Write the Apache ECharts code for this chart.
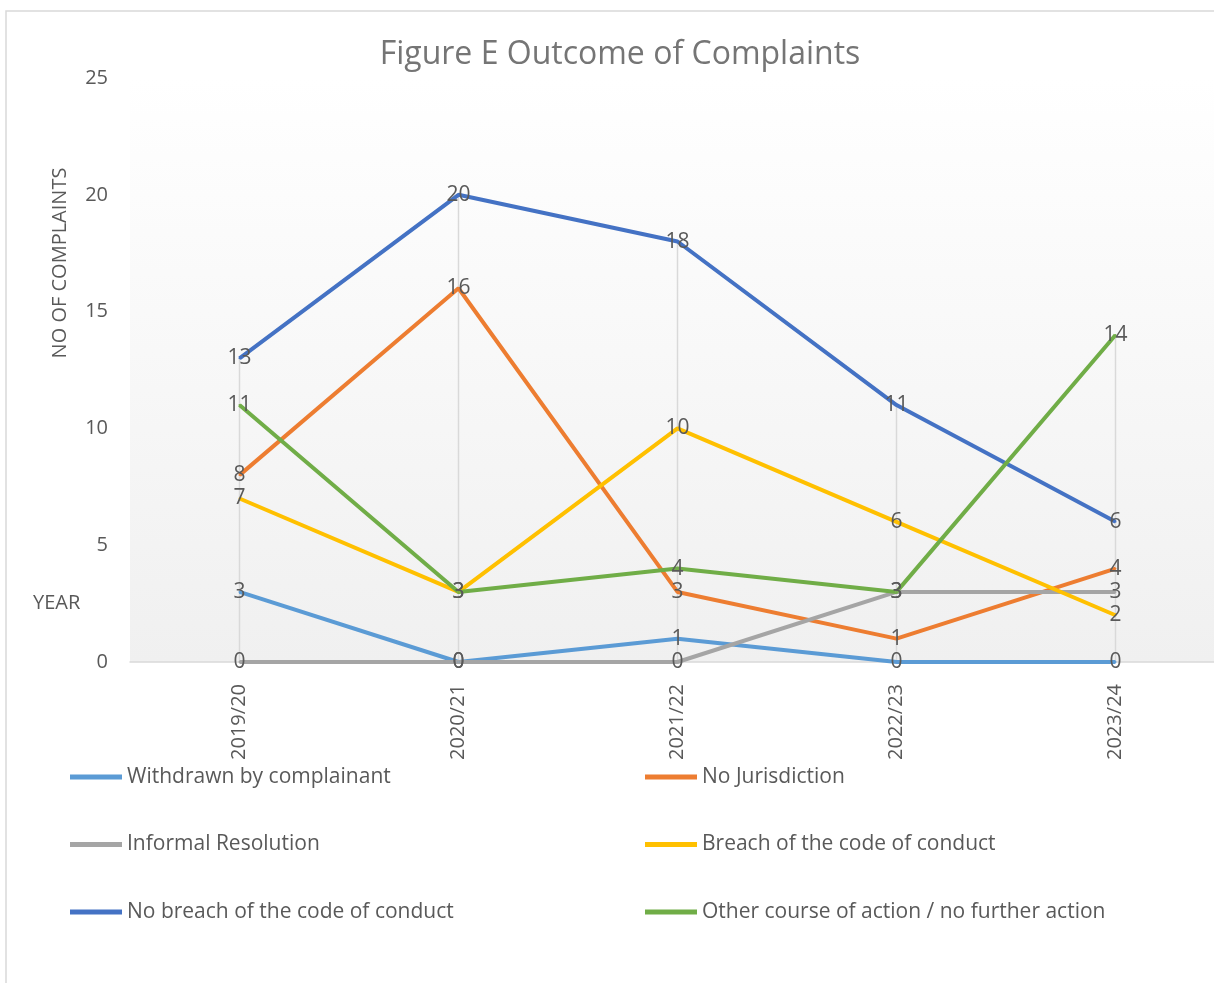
<html>
<head>
    <meta http-equiv="Content-Type" content="text/html; charset=utf-8">
    <title>Figure E Outcome of Complaints</title>
    <style>body{margin:0;background:#fff;}</style>
</head>
<body>
<div id="main" style="width:1214px;height:983px;"></div>
<script type="text/javascript" src="https://cdn.jsdelivr.net/npm/echarts@6/dist/echarts.min.js"></script>
<script type="text/javascript">
var years = ["2019/20", "2020/21", "2021/22", "2022/23", "2023/24"];
var withdrawn = [3, 0, 1, 0, 0];
var noJurisdiction = [8, 16, 3, 1, 4];
var informal = [0, 0, 0, 3, 3];
var breach = [7, 3, 10, 6, 2];
var noBreach = [13, 20, 18, 11, 6];
var otherAction = [11, 3, 4, 3, 14];

var names = ["Withdrawn by complainant", "No Jurisdiction", "Informal Resolution",
             "Breach of the code of conduct", "No breach of the code of conduct",
             "Other course of action / no further action"];
var colors = ["#5B9BD5", "#ED7D31", "#A5A5A5", "#FFC000", "#4472C4", "#70AD47"];
var allData = [withdrawn, noJurisdiction, informal, breach, noBreach, otherAction];

// drop lines run from the highest point of each year down to the axis
var dropTop = years.map(function(y, i) {
    return Math.max.apply(null, allData.map(function(d) { return d[i]; }));
});

var font = "'Open Sans', sans-serif";
var textGrey = "#595959";

var myChart = echarts.init(document.getElementById("main"));

var series = [{
    type: 'bar',
    data: dropTop,
    barWidth: 1.5,
    itemStyle: {color: '#D9D9D9'},
    silent: true,
    z: 1
}];
for (var i = 0; i < names.length; i++) {
    series.push({
        name: names[i],
        type: 'line',
        data: allData[i],
        symbol: 'circle',
        symbolSize: 2,
        color: colors[i],
        lineStyle: {width: 4, color: colors[i]},
        label: {
            show: true,
            position: 'inside',
            color: textGrey,
            fontFamily: font,
            fontSize: 21
        },
        z: 3
    });
}

var legendCommon = {
    orient: 'vertical',
    icon: 'rect',
    itemWidth: 52,
    itemHeight: 5,
    itemGap: 43.5,
    textStyle: {color: textGrey, fontFamily: font, fontSize: 21, lineHeight: 24}
};

var option = {
    animation: false,
    title: {
        text: "Figure E Outcome of Complaints",
        left: 615,
        textAlign: 'center',
        top: 34,
        textStyle: {color: '#757575', fontFamily: font, fontSize: 32, fontWeight: 'normal'}
    },
    legend: [
        Object.assign({}, legendCommon, {left: 65, top: 760, data: [names[0], names[2], names[4]]}),
        Object.assign({}, legendCommon, {left: 640, top: 760, data: [names[1], names[3], names[5]]})
    ],
    grid: {
        left: 130,
        top: 78,
        width: 1095,
        height: 584,
        outerBoundsMode: 'none',
        containLabel: false,
        show: true,
        borderWidth: 0,
        backgroundColor: new echarts.graphic.LinearGradient(0, 0, 0, 1, [
            {offset: 0, color: '#FFFFFF'},
            {offset: 1, color: '#F0F0F0'}
        ])
    },
    xAxis: {
        type: 'category',
        data: years,
        boundaryGap: true,
        axisLine: {lineStyle: {color: '#D9D9D9', width: 1.5}},
        axisTick: {show: false},
        splitLine: {show: false},
        axisLabel: {rotate: 90, margin: 22, color: textGrey, fontFamily: font, fontSize: 20}
    },
    yAxis: {
        type: 'value',
        min: 0,
        max: 25,
        interval: 5,
        axisLine: {show: false},
        axisTick: {show: false},
        splitLine: {show: false},
        axisLabel: {margin: 22, color: textGrey, fontFamily: font, fontSize: 20}
    },
    graphic: [
        {
            type: 'rect',
            shape: {x: 6, y: 11, width: 1300, height: 1100},
            style: {fill: 'none', stroke: '#D9D9D9', lineWidth: 1.5},
            silent: true,
            z: -1
        },
        {
            type: 'text',
            x: 60,
            y: 263,
            rotation: Math.PI / 2,
            style: {text: 'NO OF COMPLAINTS', fill: textGrey, font: '20px ' + font, align: 'center', verticalAlign: 'middle'}
        },
        {
            type: 'text',
            x: 33,
            y: 603,
            style: {text: 'YEAR', fill: textGrey, font: '20px ' + font, align: 'left', verticalAlign: 'middle'}
        }
    ],
    series: series
};
myChart.setOption(option);
</script>
</body>
</html>
